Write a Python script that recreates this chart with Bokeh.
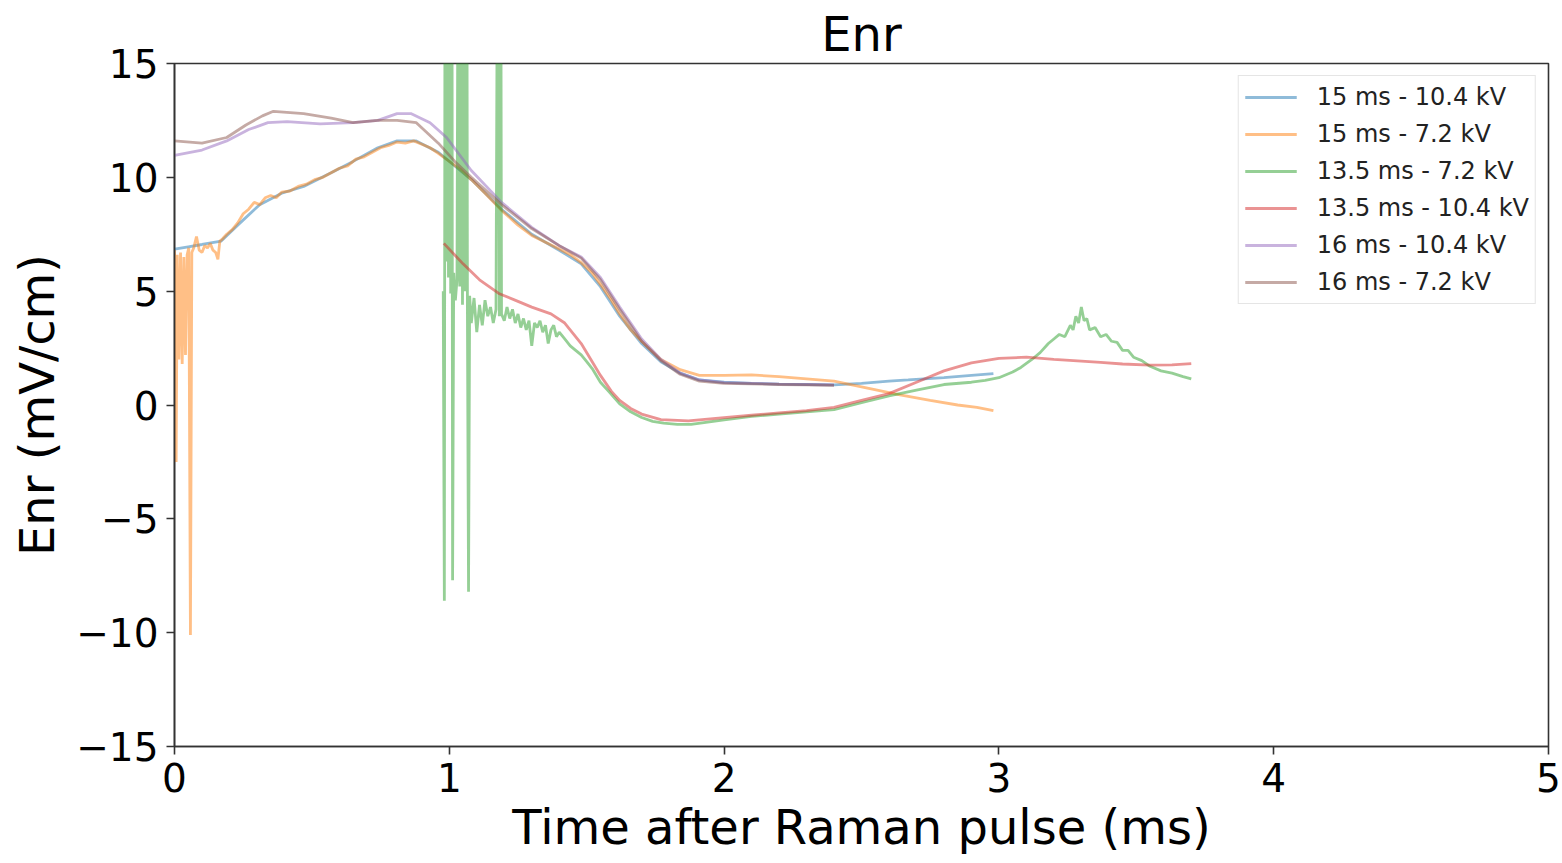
from bokeh.plotting import figure
from bokeh.models import Range1d, FixedTicker
from bokeh.embed import file_html
from bokeh.resources import INLINE

# ---- data (time in ms, Enr in mV/cm) ----
labels = ["15 ms - 10.4 kV", "15 ms - 7.2 kV", "13.5 ms - 7.2 kV",
          "13.5 ms - 10.4 kV", "16 ms - 10.4 kV", "16 ms - 7.2 kV"]
colors = ["#1f77b4", "#ff7f0e", "#2ca02c", "#d62728", "#9467bd", "#8c564b"]

blue_15_104 = [(0, 6.85), (0.05, 6.95), (0.1, 7.05), (0.17, 7.2), (0.23, 7.9), (0.31, 8.8),
               (0.39, 9.3), (0.47, 9.6), (0.57, 10.2), (0.65, 10.7), (0.74, 11.3), (0.81, 11.6),
               (0.88, 11.6), (0.96, 11.1), (1.03, 10.4), (1.08, 9.9), (1.19, 8.6), (1.30, 7.5),
               (1.40, 6.8), (1.48, 6.2), (1.55, 5.2), (1.62, 3.9), (1.70, 2.7), (1.77, 1.9),
               (1.84, 1.4), (1.91, 1.1), (2.0, 1.0), (2.1, 0.95), (2.2, 0.92), (2.3, 0.9),
               (2.4, 0.88), (2.5, 0.95), (2.6, 1.05), (2.67, 1.1), (2.8, 1.2), (2.9, 1.3),
               (2.98, 1.38)]

orange_15_72 = [(0.000, 6.8), (0.006, -2.5), (0.010, 6.6), (0.016, 2.0), (0.022, 6.7),
                (0.028, 1.8), (0.034, 6.5), (0.040, 2.2), (0.046, 6.6), (0.052, 6.9),
                (0.058, -10.1), (0.063, 6.7), (0.070, 6.9), (0.080, 7.4), (0.090, 6.8),
                (0.100, 6.7), (0.110, 7.0), (0.120, 6.9), (0.130, 7.1), (0.140, 6.8),
                (0.150, 6.7), (0.158, 6.4), (0.165, 7.2), (0.175, 7.3), (0.19, 7.5),
                (0.21, 7.7), (0.23, 8.0), (0.25, 8.4), (0.27, 8.6), (0.29, 8.9), (0.31, 8.8),
                (0.33, 9.1), (0.35, 9.2), (0.37, 9.1), (0.39, 9.35), (0.42, 9.4), (0.45, 9.6),
                (0.48, 9.7), (0.51, 9.9), (0.54, 10.0), (0.57, 10.2), (0.60, 10.4), (0.63, 10.5),
                (0.66, 10.8), (0.69, 10.9), (0.72, 11.1), (0.75, 11.3), (0.78, 11.4),
                (0.81, 11.55), (0.84, 11.5), (0.87, 11.6), (0.90, 11.45), (0.93, 11.3),
                (0.96, 11.05), (1.00, 10.7), (1.04, 10.35), (1.08, 9.9), (1.13, 9.3),
                (1.19, 8.55), (1.25, 7.9), (1.30, 7.45), (1.35, 7.15), (1.40, 6.85),
                (1.44, 6.6), (1.48, 6.25), (1.52, 5.8), (1.55, 5.3), (1.59, 4.6), (1.62, 4.0),
                (1.66, 3.3), (1.70, 2.8), (1.77, 2.0), (1.84, 1.55), (1.91, 1.3), (2.0, 1.3),
                (2.1, 1.32), (2.2, 1.25), (2.3, 1.15), (2.4, 1.05), (2.5, 0.8), (2.64, 0.45),
                (2.75, 0.2), (2.85, 0.0), (2.92, -0.1), (2.98, -0.25)]

green_135_72 = [(0.978, 5.0), (0.982, -8.6), (0.985, 30), (0.989, 6.3), (0.993, 30),
                (0.997, 5.6), (1.001, 30), (1.005, 4.9), (1.009, 30), (1.012, -7.7),
                (1.016, 5.8), (1.022, 4.6), (1.028, 5.5), (1.034, 30), (1.038, 5.2),
                (1.043, 30), (1.048, 4.4), (1.053, 30), (1.058, 5.0), (1.063, 30),
                (1.066, 4.0), (1.070, -8.2), (1.074, 4.8), (1.08, 3.6), (1.09, 4.7),
                (1.10, 3.2), (1.11, 4.4), (1.12, 3.5), (1.13, 4.6), (1.14, 3.9), (1.15, 4.3),
                (1.16, 3.6), (1.17, 4.2), (1.178, 30), (1.182, 3.9), (1.186, 30), (1.19, 4.0),
                (1.20, 3.7), (1.21, 4.3), (1.22, 3.8), (1.23, 4.2), (1.24, 3.6), (1.25, 4.0),
                (1.26, 3.4), (1.27, 3.8), (1.28, 3.3), (1.29, 3.7), (1.30, 2.6), (1.31, 3.6),
                (1.32, 3.4), (1.33, 3.7), (1.34, 3.2), (1.35, 3.5), (1.36, 2.7), (1.37, 3.3),
                (1.38, 3.5), (1.39, 3.0), (1.40, 3.2), (1.42, 2.9), (1.44, 2.6), (1.46, 2.4),
                (1.48, 2.2), (1.50, 1.9), (1.52, 1.6), (1.55, 1.0), (1.58, 0.6), (1.62, 0.05),
                (1.66, -0.3), (1.70, -0.55), (1.74, -0.72), (1.78, -0.8), (1.83, -0.85),
                (1.88, -0.85), (1.94, -0.75), (2.0, -0.65), (2.1, -0.5), (2.2, -0.4),
                (2.3, -0.3), (2.4, -0.2), (2.5, 0.1), (2.6, 0.4), (2.7, 0.65), (2.8, 0.9),
                (2.9, 1.0), (2.95, 1.08), (3.0, 1.2), (3.05, 1.45), (3.08, 1.65), (3.12, 2.0),
                (3.15, 2.3), (3.18, 2.7), (3.20, 2.9), (3.22, 3.1), (3.24, 3.0), (3.26, 3.5),
                (3.27, 3.3), (3.28, 3.9), (3.29, 3.6), (3.30, 4.3), (3.31, 3.7), (3.32, 3.8),
                (3.33, 3.3), (3.35, 3.4), (3.37, 3.0), (3.39, 3.1), (3.41, 2.8), (3.43, 2.75),
                (3.45, 2.4), (3.47, 2.4), (3.49, 2.1), (3.52, 1.95), (3.55, 1.7), (3.59, 1.5),
                (3.63, 1.4), (3.67, 1.25), (3.70, 1.15)]

red_135_104 = [(0.98, 7.1), (1.05, 6.2), (1.11, 5.5), (1.18, 4.9), (1.25, 4.55), (1.30, 4.3),
               (1.37, 4.0), (1.42, 3.6), (1.48, 2.7), (1.52, 1.9), (1.55, 1.3), (1.59, 0.6),
               (1.62, 0.2), (1.66, -0.15), (1.70, -0.4), (1.77, -0.64), (1.87, -0.7),
               (2.0, -0.55), (2.1, -0.45), (2.2, -0.35), (2.3, -0.25), (2.4, -0.1), (2.5, 0.2),
               (2.6, 0.5), (2.7, 1.0), (2.8, 1.5), (2.9, 1.85), (3.0, 2.05),
               (3.1, 2.1), (3.2, 2.0), (3.3, 1.93), (3.37, 1.87), (3.45, 1.8), (3.55, 1.75),
               (3.63, 1.76), (3.70, 1.82)]

purple_16_104 = [(0, 10.96), (0.1, 11.2), (0.19, 11.6), (0.27, 12.1), (0.34, 12.4), (0.41, 12.45),
                 (0.53, 12.35), (0.65, 12.4), (0.74, 12.5), (0.81, 12.8), (0.86, 12.8),
                 (0.93, 12.4), (0.99, 11.75), (1.08, 10.3), (1.19, 8.9), (1.30, 7.8),
                 (1.40, 7.0), (1.48, 6.5), (1.55, 5.6), (1.62, 4.3), (1.70, 2.9), (1.77, 2.0),
                 (1.84, 1.4), (1.91, 1.1), (2.0, 0.98), (2.1, 0.95), (2.2, 0.92), (2.3, 0.9),
                 (2.4, 0.88)]

brown_16_72 = [(0, 11.6), (0.1, 11.5), (0.19, 11.75), (0.26, 12.3), (0.32, 12.7), (0.36, 12.9),
               (0.47, 12.8), (0.57, 12.6), (0.65, 12.4), (0.74, 12.5), (0.81, 12.5), (0.88, 12.4),
               (0.96, 11.5), (1.02, 10.7), (1.08, 10.0), (1.19, 8.8), (1.30, 7.75), (1.40, 7.0),
               (1.48, 6.45), (1.55, 5.5), (1.62, 4.2), (1.70, 2.8), (1.77, 1.95), (1.84, 1.35),
               (1.91, 1.05), (2.0, 0.95), (2.1, 0.93), (2.2, 0.9), (2.3, 0.88), (2.4, 0.86)]

series = [blue_15_104, orange_15_72, green_135_72, red_135_104, purple_16_104, brown_16_72]

x_ticks = [0, 1, 2, 3, 4, 5]
y_ticks = [-15, -10, -5, 0, 5, 10, 15]

FONT = "DejaVu Sans"

p = figure(width=1562, height=863, output_backend="svg", toolbar_location=None,
           x_range=Range1d(0, 5), y_range=Range1d(-15, 15),
           min_border_left=174, min_border_right=14, min_border_top=63, min_border_bottom=117,
           title="Enr")

p.title.align = "center"
p.title.text_font = FONT
p.title.text_font_size = "48px"
p.title.text_font_style = "normal"
p.title.text_color = "black"
p.title.standoff = 4

p.xgrid.visible = False
p.ygrid.visible = False
p.outline_line_color = "#333333"
p.outline_line_width = 1.6
p.outline_line_alpha = 1.0
p.background_fill_color = "white"
p.border_fill_color = "white"

p.xaxis.ticker = FixedTicker(ticks=x_ticks)
p.yaxis.ticker = FixedTicker(ticks=y_ticks)
p.yaxis.major_label_overrides = {t: (("\u2212" + str(-t)) if t < 0 else str(t)) for t in y_ticks}

for ax in (p.xaxis[0], p.yaxis[0]):
    ax.axis_line_color = "#333333"
    ax.axis_line_width = 1.6
    ax.major_tick_line_color = "#333333"
    ax.major_tick_line_width = 1.6
    ax.major_tick_in = 0
    ax.major_tick_out = 8
    ax.minor_tick_line_color = None
    ax.major_label_text_font = FONT
    ax.major_label_text_font_size = "39px"
    ax.major_label_text_color = "black"
    ax.axis_label_text_font = FONT
    ax.axis_label_text_font_size = "48px"
    ax.axis_label_text_font_style = "normal"
    ax.axis_label_text_color = "black"

p.xaxis.axis_label = "Time after Raman pulse (ms)"
p.yaxis.axis_label = "Enr (mV/cm)"
p.xaxis.major_label_standoff = 8
p.xaxis.axis_label_standoff = 4
p.yaxis.major_label_standoff = 8
p.yaxis.axis_label_standoff = 8

for data, col, lab in zip(series, colors, labels):
    xs = [d[0] for d in data]
    ys = [d[1] for d in data]
    p.line(xs, ys, line_color=col, line_alpha=0.5, line_width=2.8, legend_label=lab)

lg = p.legend[0]
lg.location = "top_right"
lg.margin = 12
lg.padding = 6
lg.spacing = 7
lg.label_height = 30
lg.glyph_height = 30
lg.glyph_width = 52
lg.label_standoff = 20
lg.label_text_font = FONT
lg.label_text_font_size = "24px"
lg.label_text_color = "#222222"
lg.border_line_color = "#cccccc"
lg.border_line_width = 1.5
lg.background_fill_color = "white"
lg.background_fill_alpha = 0.8

open("out.html", "w").write(file_html(p, INLINE))
